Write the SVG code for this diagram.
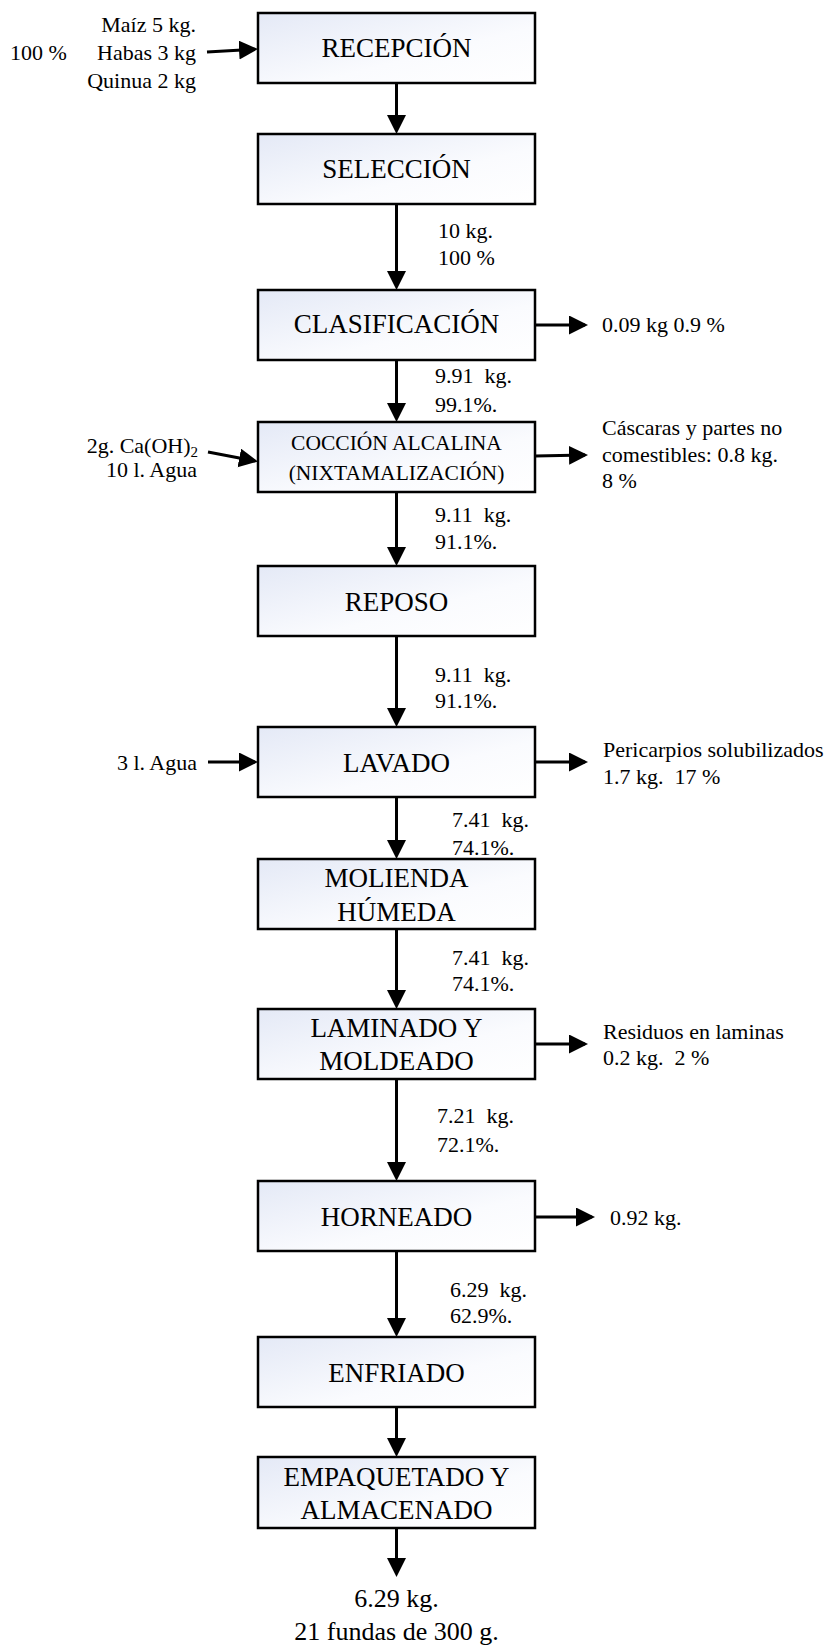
<svg xmlns="http://www.w3.org/2000/svg" width="831" height="1646" viewBox="0 0 831 1646">
<style>
text{font-family:"Liberation Serif","Times New Roman",serif;fill:#000;white-space:pre}
.bt{font-size:27px;text-anchor:middle}
.bs{font-size:21.5px;text-anchor:middle}
.lb{font-size:22px}
.r{text-anchor:end}
.box{fill:url(#g);stroke:#000;stroke-width:2.5}
.c{stroke:#000;stroke-width:3;fill:none;marker-end:url(#ah)}
</style>
<defs>
<linearGradient id="g" x1="0" y1="0" x2="1" y2="1">
<stop offset="0" stop-color="#e4e9f6"/>
<stop offset="0.6" stop-color="#fafbfe"/>
<stop offset="1" stop-color="#ffffff"/>
</linearGradient>
<marker id="ah" markerUnits="userSpaceOnUse" markerWidth="20" markerHeight="20" refX="16" refY="9.5" orient="auto">
<path d="M0,0 L19,9.5 L0,19 z" fill="#000"/>
</marker>
</defs>
<g id="connectors">
<line class="c" x1="207" y1="52" x2="255" y2="49.2"/>
<line class="c" x1="396.5" y1="83" x2="396.5" y2="131"/>
<line class="c" x1="396.5" y1="204" x2="396.5" y2="287"/>
<line class="c" x1="535" y1="325" x2="585" y2="325"/>
<line class="c" x1="396.5" y1="360" x2="396.5" y2="419"/>
<line class="c" x1="208" y1="452" x2="255" y2="461"/>
<line class="c" x1="535" y1="456" x2="585" y2="455"/>
<line class="c" x1="396.5" y1="492" x2="396.5" y2="563"/>
<line class="c" x1="396.5" y1="636" x2="396.5" y2="724"/>
<line class="c" x1="208" y1="762" x2="255" y2="762"/>
<line class="c" x1="535" y1="762" x2="585" y2="762"/>
<line class="c" x1="396.5" y1="797" x2="396.5" y2="856"/>
<line class="c" x1="396.5" y1="929" x2="396.5" y2="1006"/>
<line class="c" x1="535" y1="1044" x2="585" y2="1044"/>
<line class="c" x1="396.5" y1="1079" x2="396.5" y2="1178"/>
<line class="c" x1="535" y1="1217" x2="592" y2="1217"/>
<line class="c" x1="396.5" y1="1251" x2="396.5" y2="1334"/>
<line class="c" x1="396.5" y1="1407" x2="396.5" y2="1454"/>
<line class="c" x1="396.5" y1="1528" x2="396.5" y2="1574"/>
</g>
<g id="n-recepcion"><rect class="box" x="258" y="13" width="277" height="70"/><text class="bt" x="396.5" y="57">RECEPCIÓN</text></g>
<g id="n-seleccion"><rect class="box" x="258" y="134" width="277" height="70"/><text class="bt" x="396.5" y="178">SELECCIÓN</text></g>
<g id="n-clasificacion"><rect class="box" x="258" y="290" width="277" height="70"/><text class="bt" x="396.5" y="333">CLASIFICACIÓN</text></g>
<g id="n-coccion"><rect class="box" x="258" y="422" width="277" height="70"/><text class="bs" x="396.5" y="450">COCCIÓN ALCALINA</text><text class="bs" x="396.5" y="480">(NIXTAMALIZACIÓN)</text></g>
<g id="n-reposo"><rect class="box" x="258" y="566" width="277" height="70"/><text class="bt" x="396.5" y="611">REPOSO</text></g>
<g id="n-lavado"><rect class="box" x="258" y="727" width="277" height="70"/><text class="bt" x="396.5" y="772">LAVADO</text></g>
<g id="n-molienda"><rect class="box" x="258" y="859" width="277" height="70"/><text class="bt" x="396.5" y="887">MOLIENDA</text><text class="bt" x="396.5" y="921">HÚMEDA</text></g>
<g id="n-laminado"><rect class="box" x="258" y="1009" width="277" height="70"/><text class="bt" x="396.5" y="1037">LAMINADO Y</text><text class="bt" x="396.5" y="1070">MOLDEADO</text></g>
<g id="n-horneado"><rect class="box" x="258" y="1181" width="277" height="70"/><text class="bt" x="396.5" y="1226">HORNEADO</text></g>
<g id="n-enfriado"><rect class="box" x="258" y="1337" width="277" height="70"/><text class="bt" x="396.5" y="1382">ENFRIADO</text></g>
<g id="n-empaquetado"><rect class="box" x="258" y="1457" width="277" height="71"/><text class="bt" x="396.5" y="1486">EMPAQUETADO Y</text><text class="bt" x="396.5" y="1519">ALMACENADO</text></g>
<g id="labels">
<text class="lb r" x="196" y="32">Maíz 5 kg.</text>
<text class="lb r" x="196" y="60">Habas 3 kg</text>
<text class="lb r" x="196" y="88">Quinua 2 kg</text>
<text class="lb" x="10" y="60">100 %</text>
<text class="lb" x="438" y="238">10 kg.</text>
<text class="lb" x="438" y="265">100 %</text>
<text class="lb" x="602" y="332">0.09 kg 0.9 %</text>
<text class="lb" x="435" y="383">9.91  kg.</text>
<text class="lb" x="435" y="412">99.1%.</text>
<text class="lb r" x="198" y="453">2g. Ca(OH)<tspan font-size="15" dy="4">2</tspan></text>
<text class="lb r" x="197" y="477">10 l. Agua</text>
<text class="lb" x="602" y="435">Cáscaras y partes no</text>
<text class="lb" x="602" y="462">comestibles: 0.8 kg.</text>
<text class="lb" x="602" y="488">8 %</text>
<text class="lb" x="435" y="522">9.11  kg.</text>
<text class="lb" x="435" y="549">91.1%.</text>
<text class="lb" x="435" y="682">9.11  kg.</text>
<text class="lb" x="435" y="708">91.1%.</text>
<text class="lb r" x="197" y="770">3 l. Agua</text>
<text class="lb" x="603" y="757">Pericarpios solubilizados</text>
<text class="lb" x="603" y="784">1.7 kg.  17 %</text>
<text class="lb" x="452" y="827">7.41  kg.</text>
<text class="lb" x="452" y="855">74.1%.</text>
<text class="lb" x="452" y="965">7.41  kg.</text>
<text class="lb" x="452" y="991">74.1%.</text>
<text class="lb" x="603" y="1039">Residuos en laminas</text>
<text class="lb" x="603" y="1065">0.2 kg.  2 %</text>
<text class="lb" x="437" y="1123">7.21  kg.</text>
<text class="lb" x="437" y="1152">72.1%.</text>
<text class="lb" x="610" y="1225">0.92 kg.</text>
<text class="lb" x="450" y="1297">6.29  kg.</text>
<text class="lb" x="450" y="1323">62.9%.</text>
<text x="396.5" y="1607" font-size="26" text-anchor="middle">6.29 kg.</text>
<text x="396.5" y="1640" font-size="26" text-anchor="middle">21 fundas de 300 g.</text>
</g>
</svg>
